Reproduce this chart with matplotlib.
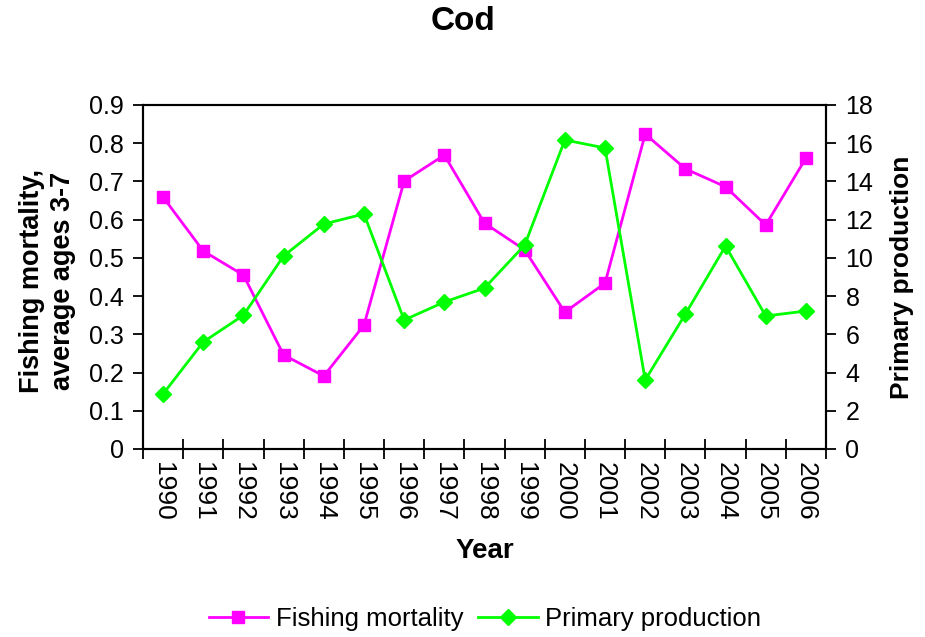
import matplotlib
matplotlib.use("Agg")
import matplotlib.pyplot as plt
import numpy as np

years = ["1990", "1991", "1992", "1993", "1994", "1995", "1996", "1997", "1998",
         "1999", "2000", "2001", "2002", "2003", "2004", "2005", "2006"]
fishing_mortality = [0.659, 0.518, 0.455, 0.246, 0.191, 0.324, 0.701, 0.769, 0.591,
                     0.521, 0.358, 0.434, 0.824, 0.733, 0.686, 0.586, 0.761]
primary_production = [2.88, 5.6, 7.0, 10.1, 11.77, 12.3, 6.75, 7.69, 8.42,
                      10.67, 16.17, 15.75, 3.61, 7.06, 10.62, 6.96, 7.22]

plt.rcParams['font.family'] = ['Liberation Sans', 'DejaVu Sans']

fig = plt.figure(figsize=(9.25, 6.37), dpi=100)
ax = fig.add_axes([143/925, 1-449/637, (826-143)/925, (449-105)/637])
ax2 = ax.twinx()

x = np.arange(len(years))
l1, = ax.plot(x, fishing_mortality, color='#FF00FF', lw=2, marker='s', markersize=9,
              label='Fishing mortality', zorder=3)
l2, = ax2.plot(x, primary_production, color='#00FF00', lw=2, marker='D', markersize=8,
               label='Primary production', zorder=3)

ax.set_xlim(-0.5, len(years)-0.5)
ax.set_ylim(0, 0.9)
ax2.set_ylim(0, 18)
ax.set_yticks(np.arange(0, 0.91, 0.1))
ax.set_yticklabels(['0' if v == 0 else f'{v:.1f}' for v in np.arange(0, 0.91, 0.1)])
ax2.set_yticks(np.arange(0, 19, 2))

ax.set_xticks(x)
ax.set_xticklabels(years, rotation=-90)
ax.set_xticks(np.arange(-0.5, len(years), 1), minor=True)
ax.tick_params(axis='x', which='major', length=0, pad=9, labelsize=19)
ax.tick_params(axis='x', which='minor', length=14, width=1.3, direction='inout')
ax.tick_params(axis='y', length=7, width=1.3, labelsize=18, direction='out', pad=7)
ax2.tick_params(axis='y', length=7, width=1.3, labelsize=18, direction='out', pad=7)

for a in (ax, ax2):
    for s in a.spines.values():
        s.set_linewidth(1.5)

ax.set_xlabel('Year', fontsize=20, fontweight='bold', labelpad=13)
ax.set_ylabel('Fishing mortality,\naverage ages 3-7', fontsize=19.5, fontweight='bold',
              linespacing=1.25)
ax.yaxis.set_label_coords(-0.098, 0.49)
ax2.set_ylabel('Primary production', fontsize=19, fontweight='bold')
ax2.yaxis.set_label_coords(1.094, 0.5)
fig.text(0.5, 1-22/637, 'Cod', ha='center', va='center', fontsize=24, fontweight='bold')

fig.legend(handles=[l1, l2], loc='center', bbox_to_anchor=(485/925, 1-619/637),
           ncol=2, frameon=False, fontsize=18.5, handlelength=2.3, columnspacing=0.6,
           handletextpad=0.3)

fig.savefig('out.png', dpi=100)
